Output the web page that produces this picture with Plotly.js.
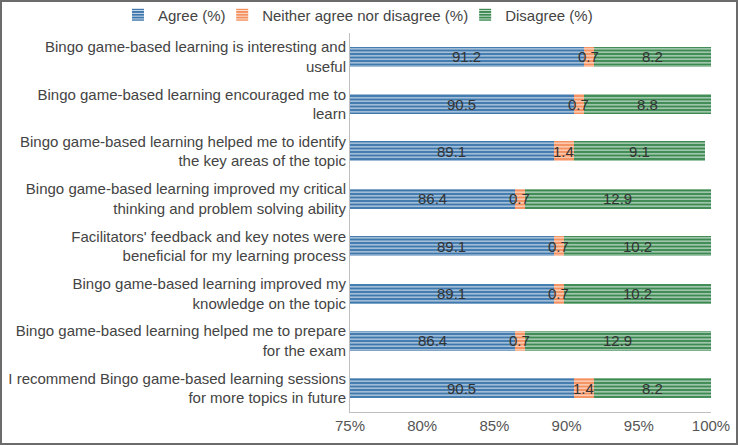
<!DOCTYPE html>
<html>
<head>
<meta charset="utf-8">
<script src="https://cdn.plot.ly/plotly-3.0.1.min.js"></script>
<style>
html,body{margin:0;padding:0;background:#fff;}
#wrap{width:738px;height:445px;box-sizing:border-box;border:2px solid #6b6b6b;overflow:hidden;}
#chart{width:734px;height:441px;}
</style>
</head>
<body>
<div id="wrap"><div id="chart"></div></div>
<script>
const categories = [
  "Bingo game-based learning is interesting and<br>useful",
  "Bingo game-based learning encouraged me to<br>learn",
  "Bingo game-based learning helped me to identify<br>the key areas of the topic",
  "Bingo game-based learning improved my critical<br>thinking and problem solving ability",
  "Facilitators' feedback and key notes were<br>beneficial for my learning process",
  "Bingo game-based learning improved my<br>knowledge on the topic",
  "Bingo game-based learning helped me to prepare<br>for the exam",
  "I recommend Bingo game-based learning sessions<br>for more topics in future"
];
const agree    = [91.2, 90.5, 89.1, 86.4, 89.1, 89.1, 86.4, 90.5];
const neither  = [0.7, 0.7, 1.4, 0.7, 0.7, 0.7, 0.7, 1.4];
const disagree = [8.2, 8.8, 9.1, 12.9, 10.2, 10.2, 12.9, 8.2];
const seriesNames = ["Agree (%)", "Neither agree nor disagree (%)", "Disagree (%)"];
const xTickVals = [75, 80, 85, 90, 95, 100];
const xTickText = ["75%", "80%", "85%", "90%", "95%", "100%"];

const colors = ["#3f78ad", "#f4905e", "#3c8a52"];
const legendIds = ["legend", "legend2", "legend3"];
const xMin = 75, xMax = 100;

function mk(name, vals, col, lg) {
  return {
    type: "bar", orientation: "h", name: name, legend: lg,
    y: categories, x: vals,
    marker: {
      color: col,
      line: {width: 0},
      pattern: {shape: "-", fgcolor: "rgba(255,255,255,0.85)", bgcolor: col, size: 3.5, solidity: 0.3}
    },
    hoverinfo: "x+name"
  };
}
const data = [
  mk(seriesNames[0], agree, colors[0], legendIds[0]),
  mk(seriesNames[1], neither, colors[1], legendIds[1]),
  mk(seriesNames[2], disagree, colors[2], legendIds[2])
];

// data labels centred on the visible part of each segment
const annotations = [];
categories.forEach((c, i) => {
  const segs = [agree[i], neither[i], disagree[i]];
  let start = 0;
  segs.forEach(v => {
    const end = start + v;
    const a = Math.max(start, xMin), b = Math.min(end, xMax);
    annotations.push({
      x: (a + b) / 2, y: c, xref: "x", yref: "y",
      text: String(v), showarrow: false,
      font: {family: "Liberation Sans, Arial, sans-serif", size: 15, color: "#333"}
    });
    start = end;
  });
});

function leg(x) {
  return {
    orientation: "h", xref: "container", yref: "container",
    x: x, xanchor: "left", y: 0.9705, yanchor: "middle",
    font: {size: 15, color: "#444"}, itemwidth: 30,
    bgcolor: "rgba(0,0,0,0)"
  };
}

const layout = {
  width: 734, height: 441,
  margin: {l: 348, r: 25, t: 31, b: 31, autoexpand: false},
  barmode: "stack",
  bargap: 0.58,
  paper_bgcolor: "#fff", plot_bgcolor: "#fff",
  font: {family: "Liberation Sans, Arial, sans-serif", size: 15, color: "#444"},
  showlegend: true,
  legend: leg(0.158),
  legend2: leg(0.300),
  legend3: leg(0.631),
  xaxis: {
    range: [xMin, xMax], tickvals: xTickVals, ticktext: xTickText,
    showgrid: false, zeroline: false, showline: true, linecolor: "#bfbfbf", linewidth: 1,
    ticks: "", tickfont: {size: 15, color: "#555"}, fixedrange: true
  },
  yaxis: {
    autorange: "reversed", showgrid: false, zeroline: false,
    showline: true, linecolor: "#bfbfbf", linewidth: 1,
    ticks: "", tickfont: {size: 15, color: "#444"}, fixedrange: true
  },
  annotations: annotations
};
Plotly.newPlot("chart", data, layout, {displayModeBar: false, staticPlot: true});
</script>
</body>
</html>
